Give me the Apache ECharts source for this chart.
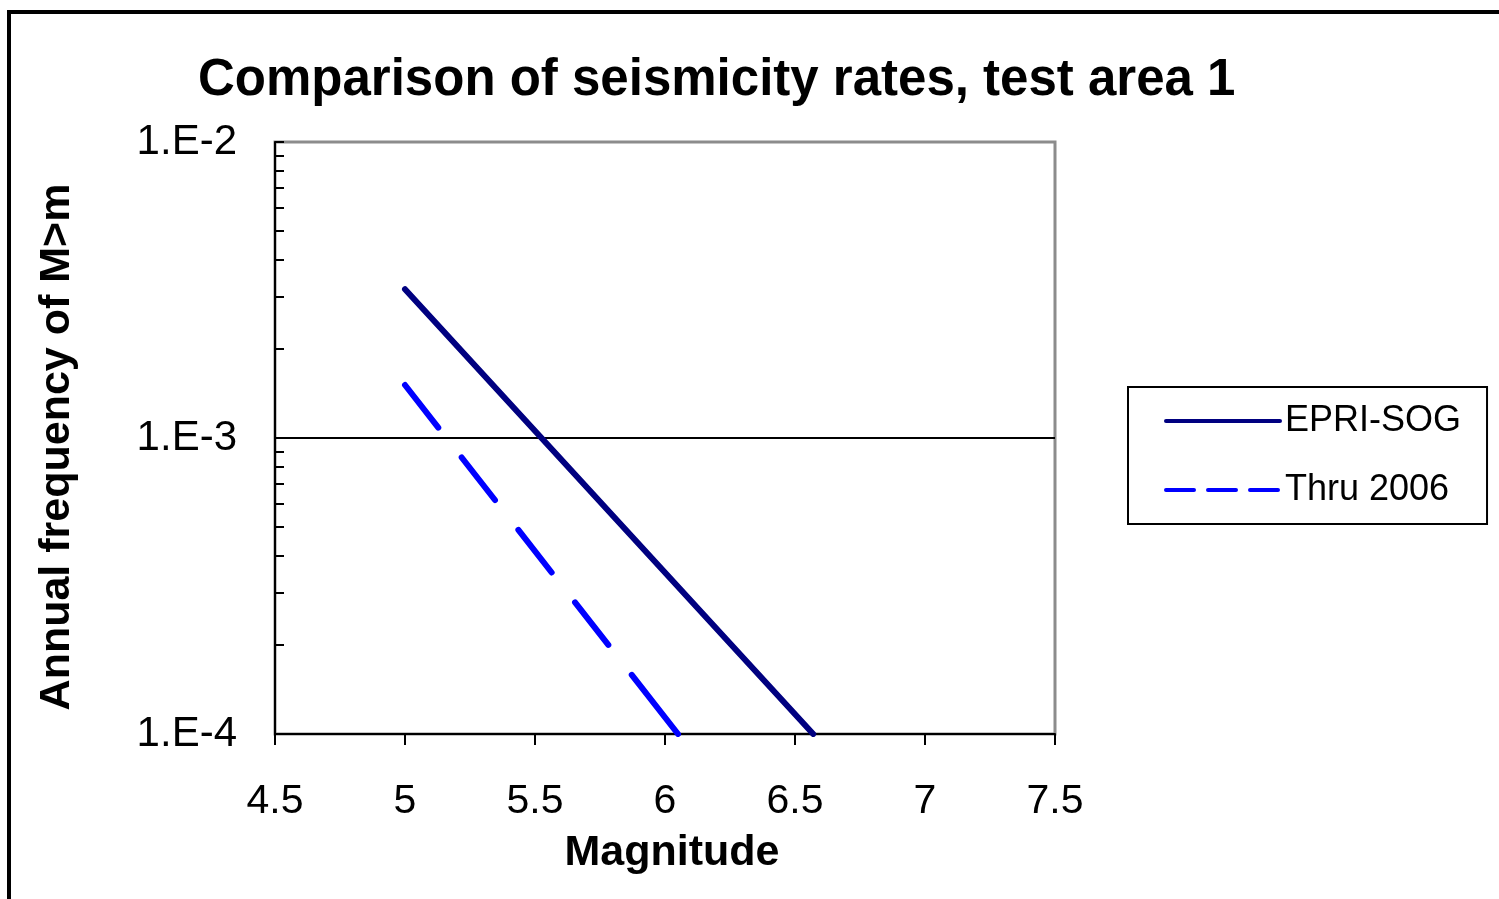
<!DOCTYPE html>
<html>
<head>
<meta charset="utf-8">
<script src="https://cdn.jsdelivr.net/npm/echarts@6/dist/echarts.min.js"></script>
<style>
html,body{margin:0;padding:0;background:#fff;}
#chart{width:1499px;height:899px;}
</style>
</head>
<body>
<div id="chart"></div>
<script>
// ---- data ----
const titleText = 'Comparison of seismicity rates, test area 1';
const xAxisName = 'Magnitude';
const yAxisName = 'Annual frequency of M>m';
const seriesNames = ['EPRI-SOG', 'Thru 2006'];
const epriSog = [[5.0, 3.18e-3], [6.57, 1.0e-4]];
const thru2006 = [[5.0, 1.51e-3], [6.05, 1.0e-4]];
const xTicks = [4.5, 5, 5.5, 6, 6.5, 7, 7.5];
const yMajor = [1e-4, 1e-3, 1e-2];
const yLabels = ['1.E-4', '1.E-3', '1.E-2'];
const yMinor = [2e-4,3e-4,4e-4,5e-4,6e-4,7e-4,8e-4,9e-4,2e-3,3e-3,4e-3,5e-3,6e-3,7e-3,8e-3,9e-3];
const refLine = 1e-3;

const FONT = '"Liberation Sans", Arial, sans-serif';
const chart = echarts.init(document.getElementById('chart'), null, {renderer: 'canvas'});

const xMin = xTicks[0], xMax = xTicks[xTicks.length - 1];

const option = {
  backgroundColor: '#ffffff',
  animation: false,
  title: {
    text: titleText,
    left: 193,
    top: 50,
    textStyle: {fontFamily: FONT, fontWeight: 'bold', fontSize: 51, color: '#000'}
  },
  graphic: [{
    type: 'rect',
    shape: {x: 9, y: 12, width: 2000, height: 2000},
    style: {fill: 'none', stroke: '#000', lineWidth: 4},
    silent: true
  }],
  grid: {
    left: 275, top: 142, right: 444, bottom: 165,
    show: true, borderColor: '#8c8c8c', borderWidth: 3, backgroundColor: '#fff'
  },
  legend: {
    left: 1128, top: 387,
    orient: 'vertical',
    padding: [14, 26, 14, 36],
    itemGap: 29,
    itemWidth: 114,
    itemHeight: 4,
    borderColor: '#000', borderWidth: 2,
    textStyle: {fontFamily: FONT, fontSize: 36, color: '#000', lineHeight: 40},
    data: [
      {name: seriesNames[0], itemStyle: {color: '#000080'},
       lineStyle: {color: '#000080', width: 4, type: 'solid'}},
      {name: seriesNames[1], itemStyle: {color: '#0000ff'},
       lineStyle: {color: '#0000ff', width: 4, type: [28, 14]}}
    ]
  },
  xAxis: {
    type: 'value', min: xMin, max: xMax, interval: 0.5,
    name: xAxisName, nameLocation: 'middle', nameGap: 98,
    nameTextStyle: {fontFamily: FONT, fontWeight: 'bold', fontSize: 43, color: '#000', padding: [0, 0, 0, 14]},
    axisLine: {show: true, onZero: false, lineStyle: {color: '#000', width: 2}},
    axisTick: {show: true, inside: false, length: 11, lineStyle: {color: '#000', width: 2}, customValues: xTicks},
    axisLabel: {fontFamily: FONT, fontSize: 41, color: '#000', margin: 47, customValues: xTicks,
      formatter: v => String(v)},
    splitLine: {show: false}
  },
  yAxis: {
    type: 'log', logBase: 10, min: 1e-4, max: 1e-2,
    name: yAxisName, nameLocation: 'middle', nameGap: 196, nameRotate: 90,
    nameTextStyle: {fontFamily: FONT, fontWeight: 'bold', fontSize: 43, color: '#000', padding: [0, 18, 0, 0]},
    axisLine: {show: true, lineStyle: {color: '#000', width: 2}},
    axisTick: {show: true, inside: true, length: 9, lineStyle: {color: '#000', width: 2},
      customValues: yMajor.concat(yMinor)},
    axisLabel: {fontFamily: FONT, fontSize: 42, color: '#000', margin: 38, customValues: yMajor,
      formatter: v => {
        let best = 0, bd = Infinity;
        yMajor.forEach((m, i) => { const d = Math.abs(Math.log10(v) - Math.log10(m)); if (d < bd) { bd = d; best = i; } });
        return yLabels[best];
      }},
    splitLine: {show: false},
    minorTick: {show: false}
  },
  series: [
    {
      name: 'gridline', type: 'line', data: [[xMin, refLine], [xMax, refLine]], symbol: 'none',
      lineStyle: {color: '#000', width: 2}, silent: true, z: 1, legendHoverLink: false,
      tooltip: {show: false}
    },
    {
      name: seriesNames[0], type: 'line', data: epriSog, symbol: 'none',
      lineStyle: {color: '#000080', width: 6, cap: 'round'},
      itemStyle: {color: '#000080'},
      z: 3
    },
    {
      name: seriesNames[1], type: 'line', data: thru2006, symbol: 'none',
      lineStyle: {color: '#0000ff', width: 6, type: [54, 38, 54, 38, 54, 38, 54, 38, 90, 40], cap: 'round'},
      itemStyle: {color: '#0000ff'},
      z: 3
    }
  ]
};
chart.setOption(option);
</script>
</body>
</html>
